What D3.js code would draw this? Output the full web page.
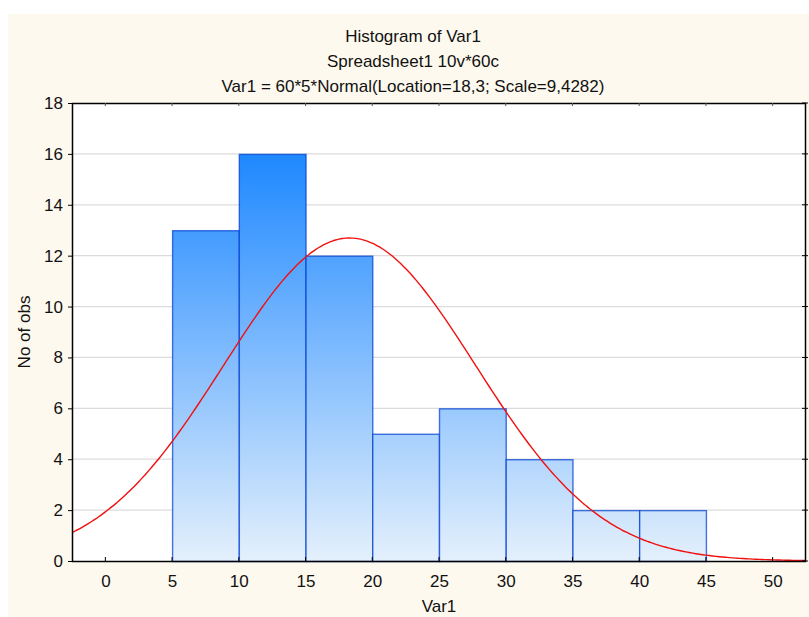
<!DOCTYPE html>
<html><head><meta charset="utf-8">
<script src="https://cdn.jsdelivr.net/npm/d3@7"></script>
<style>body{margin:0;background:#fff}svg{display:block}text{font-family:"Liberation Sans",Arial,sans-serif}</style>
</head><body><svg id="c" width="809" height="617"></svg>
<script>
const binStarts = [5, 10, 15, 20, 25, 30, 35, 40];
const binWidth = 5;
const counts = [13, 16, 12, 5, 6, 4, 2, 2];
const xTicks = [0, 5, 10, 15, 20, 25, 30, 35, 40, 45, 50];
const yTicks = [0, 2, 4, 6, 8, 10, 12, 14, 16, 18];
const titles = ["Histogram of Var1", "Spreadsheet1 10v*60c", "Var1 = 60*5*Normal(Location=18,3; Scale=9,4282)"];
const fitN = 60, fitLoc = 18.3, fitScale = 9.4282;

const FS = 17;
const svg = d3.select("#c");
svg.append("rect").attr("x", 8).attr("y", 14).attr("width", 801).attr("height", 603).attr("fill", "#fdf9ee");

const L = 72, T = 103, R = 806, B = 561;
const x = d3.scaleLinear().domain([-2.5, 52.5]).range([L, R]);
const y = d3.scaleLinear().domain([0, 18]).range([B, T]);

svg.append("rect").attr("x", L).attr("y", T).attr("width", R - L).attr("height", B - T).attr("fill", "#fff");

const defs = svg.append("defs");
const g = defs.append("linearGradient").attr("id", "bg").attr("gradientUnits", "userSpaceOnUse")
  .attr("x1", 0).attr("x2", 0).attr("y1", y(16)).attr("y2", y(0));
g.append("stop").attr("offset", 0).attr("stop-color", "#1e88ff");
g.append("stop").attr("offset", 1).attr("stop-color", "#e4f0fc");
defs.append("clipPath").attr("id", "clip").append("rect").attr("x", L).attr("y", T).attr("width", R - L).attr("height", B - T);

// gridlines
svg.append("g").selectAll("line").data(yTicks.filter(d => d > 0 && d < 18)).join("line")
  .attr("x1", L).attr("x2", R).attr("y1", d => y(d)).attr("y2", d => y(d))
  .attr("stroke", "#dcdcdc").attr("stroke-width", 1.2);

// bars
svg.append("g").selectAll("rect").data(counts).join("rect")
  .attr("x", (d, i) => x(binStarts[i]) + 0.5)
  .attr("y", d => y(d) + 0.5)
  .attr("width", (d, i) => x(binStarts[i] + binWidth) - x(binStarts[i]))
  .attr("height", d => y(0) - y(d))
  .attr("fill", "url(#bg)").attr("stroke", "rgba(0,62,210,0.72)").attr("stroke-width", 1.4);

// fitted normal curve
const pts = d3.range(-2.5, 52.51, 0.25).map(v => [v, fitN * binWidth * Math.exp(-0.5 * ((v - fitLoc) / fitScale) ** 2) / (fitScale * Math.sqrt(2 * Math.PI))]);
svg.append("path").datum(pts).attr("clip-path", "url(#clip)")
  .attr("d", d3.line().x(d => x(d[0])).y(d => y(d[1])).curve(d3.curveMonotoneX))
  .attr("fill", "none").attr("stroke", "#f01010").attr("stroke-width", 1.4);

// frame
svg.append("rect").attr("x", L + 0.5).attr("y", T + 0.5).attr("width", R - L - 1).attr("height", B - T)
  .attr("fill", "none").attr("stroke", "#000").attr("stroke-width", 1.5);

// axes
const xa = svg.append("g").attr("transform", `translate(0,${B})`)
  .call(d3.axisBottom(x).tickValues(xTicks).tickSize(0).tickPadding(14));
xa.select(".domain").remove();
xa.selectAll("text").attr("font-size", FS).attr("fill", "#111").attr("font-family", "Liberation Sans, Arial, sans-serif");
// inward ticks bottom & top
svg.append("g").selectAll("line").data(xTicks).join("line")
  .attr("x1", d => x(d)).attr("x2", d => x(d)).attr("y1", B - 4).attr("y2", B).attr("stroke", "#000");
svg.append("g").selectAll("line").data(xTicks).join("line")
  .attr("x1", d => x(d)).attr("x2", d => x(d)).attr("y1", T).attr("y2", T + 3).attr("stroke", "#555");

const ya = svg.append("g").attr("transform", `translate(${L},0)`)
  .call(d3.axisLeft(y).tickValues(yTicks).tickSize(4).tickPadding(5));
ya.select(".domain").remove();
ya.selectAll("line").attr("stroke", "#000");
ya.selectAll("text").attr("font-size", FS).attr("fill", "#111").attr("font-family", "Liberation Sans, Arial, sans-serif");
svg.append("g").selectAll("line").data(yTicks).join("line")
  .attr("x1", R - 4).attr("x2", R + 2).attr("y1", d => y(d)).attr("y2", d => y(d)).attr("stroke", "#000");

// titles
svg.append("g").selectAll("text").data(titles).join("text")
  .attr("x", 413).attr("y", (d, i) => 42 + i * 25).attr("text-anchor", "middle")
  .attr("font-size", FS).attr("fill", "#111").text(d => d);

svg.append("text").attr("x", 439).attr("y", 612).attr("text-anchor", "middle").attr("font-size", FS).attr("fill", "#111").text("Var1");
svg.append("text").attr("transform", `translate(30,${(T + B) / 2}) rotate(-90)`).attr("text-anchor", "middle")
  .attr("font-size", FS).attr("fill", "#111").text("No of obs");
</script></body></html>
